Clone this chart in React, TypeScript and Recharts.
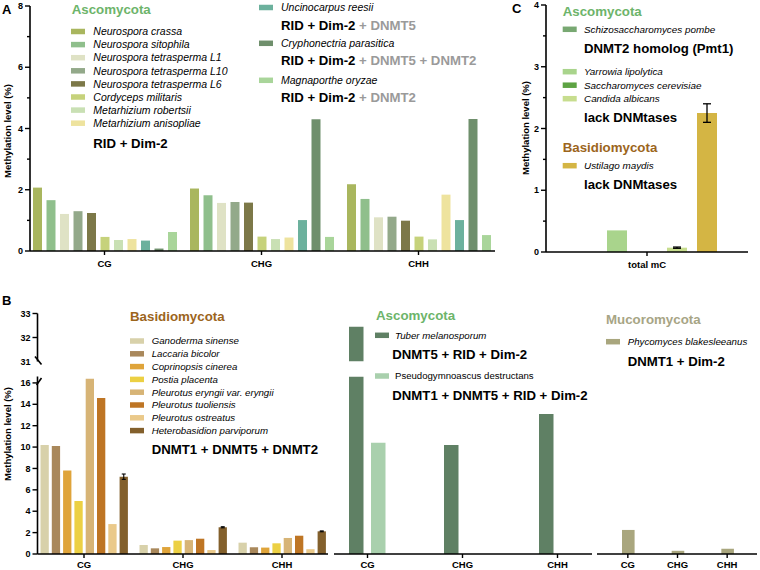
import React from 'react';
import { BarChart, Bar, XAxis, YAxis, ErrorBar } from 'recharts';

const FONT = '"Liberation Sans", Arial, Helvetica, sans-serif';

const contexts = ['CG', 'CHG', 'CHH'];

// Panel A: Ascomycota with RID + Dim-2 (values per species: CG, CHG, CHH)
const ascoSpecies = [
  'Neurospora crassa',
  'Neurospora sitophila',
  'Neurospora tetrasperma L1',
  'Neurospora tetrasperma L10',
  'Neurospora tetrasperma L6',
  'Cordyceps militaris',
  'Metarhizium robertsii',
  'Metarhizium anisopliae',
  'Uncinocarpus reesii',
  'Cryphonectria parasitica',
  'Magnaporthe oryzae',
];
const ascoValues = [
  [2.07, 2.04, 2.18],
  [1.66, 1.82, 1.7],
  [1.21, 1.57, 1.1],
  [1.3, 1.6, 1.12],
  [1.24, 1.58, 0.99],
  [0.46, 0.47, 0.47],
  [0.36, 0.39, 0.38],
  [0.39, 0.44, 1.84],
  [0.34, 1.01, 1.01],
  [0.08, 4.3, 4.31],
  [0.62, 0.46, 0.52],
];
const ascoColors = [
  '#a9b65e', '#8fbf8c', '#dfe2c5', '#93a98a', '#7c7848', '#c6d27b',
  '#c9e0b4', '#eee39e', '#6cb19d', '#6f8f6c', '#a9d59a',
];

// Panel B: Basidiomycota
const basidioSpecies = [
  'Ganoderma sinense',
  'Laccaria bicolor',
  'Coprinopsis cinerea',
  'Postia placenta',
  'Pleurotus eryngii var. eryngii',
  'Pleurotus tuoliensis',
  'Pleurotus ostreatus',
  'Heterobasidion parviporum',
];
const basidioValues = [
  [10.2, 0.84, 1.06],
  [10.1, 0.53, 0.63],
  [7.8, 0.65, 0.6],
  [4.95, 1.25, 1.0],
  [16.4, 1.3, 1.5],
  [14.6, 1.43, 1.71],
  [2.8, 0.37, 0.45],
  [7.23, 2.5, 2.12],
];
const heterobasidionErr = [0.25, 0.05, 0.04];
const basidioColors = [
  '#d8d1aa', '#a9885b', '#dfa43a', '#ecd043', '#d7b476', '#be7524', '#eac98a', '#83602c',
];

// Panel B: Ascomycota with DNMT5
const dnmt5Species = ['Tuber melanosporum', 'Pseudogymnoascus destructans'];
const dnmt5Values = [
  [32.45, 10.2, 13.1],
  [10.4, null, null],
];
const dnmt5Colors = ['#5f8064', '#a9d0ad'];

// Panel B: Mucoromycota
const mucoSpecies = ['Phycomyces blakesleeanus'];
const mucoValues = [[2.25, 0.3, 0.5]];
const mucoColors = ['#a9a67e'];

// Panel C: total mC
const cCategory = ['total mC'];
const cSpecies = [
  'Schizosaccharomyces pombe',
  'Yarrowia lipolytica',
  'Saccharomyces cerevisiae',
  'Candida albicans',
  'Ustilago maydis',
];
const cValues = [0, 0.35, 0, 0.07, 2.25];
const cErrors = [null, null, null, 0.01, 0.15];
const cColors = ['#78a872', '#a9d48c', '#5da343', '#c7dd8e', '#d4b544'];

const ticksA = [0, 1, 2, 3, 4, 5, 6, 7, 8];
const ticksC = [0, 0.5, 1, 1.5, 2, 2.5, 3, 3.5, 4];
const ticksBLow = [0, 2, 4, 6, 8, 10, 12, 14, 16];
const ticksBHigh = [31, 32, 33];

const LOW_MAX = 16.6;
const HIGH_MIN = 31;
const HIGH_MAX = 33;

const GREEN = '#6db46a';
const BROWN = '#9c651c';
const KHAKI = '#a7a585';
const GREY = '#9a9a9a';

function buildRows(values: (number | null)[][], clip?: (v: number | null) => number | null) {
  return contexts.map((ctx, ci) => {
    const row: Record<string, any> = { ctx };
    values.forEach((v, si) => {
      row['s' + si] = clip ? clip(v[ci]) : v[ci];
    });
    return row;
  });
}

const rowsA = buildRows(ascoValues);
const rowsBasidio = buildRows(basidioValues).map((r, i) => ({ ...r, e7: heterobasidionErr[i] }));
const rowsDnmt5Low = buildRows(dnmt5Values, (v) => (v == null ? null : Math.min(v, LOW_MAX)));
const rowsDnmt5High = buildRows(dnmt5Values, (v) => (v != null && v > HIGH_MIN ? v : null));
const rowsMuco = buildRows(mucoValues);
const rowsC = cCategory.map((ctx) => {
  const row: Record<string, any> = { ctx };
  cValues.forEach((v, i) => {
    row['s' + i] = v;
    if (cErrors[i] != null) row['e' + i] = cErrors[i];
  });
  return row;
});

const axisLine = { stroke: '#000', strokeWidth: 1.6 };
const xTick = { fontSize: 9.5, fontWeight: 700, fill: '#000', fontFamily: FONT };

function yTick(isMajor: (v: number) => boolean, noLine: (v: number) => boolean = () => false) {
  return (props: any) => {
    const { x, y, payload } = props;
    const v = payload.value;
    const major = isMajor(v);
    const len = major ? 5 : 3;
    return (
      <g>
        {!noLine(v) && <line x1={x - len} x2={x} y1={y} y2={y} stroke="#000" strokeWidth={1.4} />}
        {major && (
          <text
            x={x - 7}
            y={y}
            dy="0.35em"
            textAnchor="end"
            fontSize={9}
            fontWeight={700}
            fontFamily={FONT}
            fill="#000"
          >
            {v}
          </text>
        )}
      </g>
    );
  };
}

function PanelA() {
  return (
    <BarChart
      width={500}
      height={280}
      data={rowsA}
      margin={{ top: 6, right: 5, left: 0, bottom: 9 }}
      barSize={9}
      barGap={4.5}
    >
      <XAxis
        dataKey="ctx"
        height={20}
        padding={{ left: -4, right: -2 }}
        axisLine={axisLine}
        tickLine={{ stroke: '#000', strokeWidth: 1.4 }}
        tickSize={4}
        tickMargin={5}
        tick={xTick}
        interval={0}
      />
      <YAxis
        width={30}
        domain={[0, 8]}
        ticks={ticksA}
        interval={0}
        axisLine={axisLine}
        tickLine={false}
        tickSize={0}
        tickMargin={0}
        tick={yTick((v) => v % 2 === 0)}
      />
      {ascoSpecies.map((s, i) => (
        <Bar key={s} dataKey={'s' + i} name={s} fill={ascoColors[i]} isAnimationActive={false} />
      ))}
    </BarChart>
  );
}

function PanelC() {
  return (
    <BarChart
      width={255}
      height={280}
      data={rowsC}
      margin={{ top: 5, right: 7, left: 0, bottom: 8 }}
      barSize={20}
      barGap={10}
    >
      <XAxis
        dataKey="ctx"
        height={20}
        axisLine={axisLine}
        tickLine={{ stroke: '#000', strokeWidth: 1.4 }}
        tickSize={4}
        tickMargin={5.5}
        tick={xTick}
        interval={0}
      />
      <YAxis
        width={46}
        domain={[0, 4]}
        ticks={ticksC}
        interval={0}
        axisLine={axisLine}
        tickLine={false}
        tickSize={0}
        tickMargin={0}
        tick={yTick((v) => Number.isInteger(v))}
      />
      {cSpecies.map((s, i) => (
        <Bar key={s} dataKey={'s' + i} name={s} fill={cColors[i]} isAnimationActive={false}>
          {cErrors[i] != null && (
            <ErrorBar dataKey={'e' + i} width={4} strokeWidth={1.3} stroke="#000" direction="y" />
          )}
        </Bar>
      ))}
    </BarChart>
  );
}

function BasidioHigh() {
  return (
    <BarChart width={335} height={70} data={rowsBasidio} margin={{ top: 13.5, right: 7, left: 0, bottom: 8.5 }}>
      <XAxis dataKey="ctx" hide />
      <YAxis
        width={37.5}
        domain={[HIGH_MIN, HIGH_MAX]}
        ticks={ticksBHigh}
        interval={0}
        allowDataOverflow
        axisLine={axisLine}
        tickLine={false}
        tickSize={0}
        tickMargin={0}
        tick={yTick(() => true, (v) => v === HIGH_MIN)}
      />
    </BarChart>
  );
}

function BasidioLow() {
  return (
    <BarChart
      width={335}
      height={200}
      data={rowsBasidio}
      margin={{ top: 6.5, right: 7, left: 0, bottom: 0 }}
      barSize={8.3}
      barGap={3}
    >
      <XAxis
        dataKey="ctx"
        height={16}
        padding={{ left: -3, right: -3.5 }}
        axisLine={axisLine}
        tickLine={{ stroke: '#000', strokeWidth: 1.4 }}
        tickSize={4}
        tickMargin={3.5}
        tick={xTick}
        interval={0}
      />
      <YAxis
        width={37.5}
        domain={[0, LOW_MAX]}
        ticks={ticksBLow}
        interval={0}
        allowDataOverflow
        axisLine={axisLine}
        tickLine={false}
        tickSize={0}
        tickMargin={0}
        tick={yTick(() => true)}
      />
      {basidioSpecies.map((s, i) => (
        <Bar key={s} dataKey={'s' + i} name={s} fill={basidioColors[i]} isAnimationActive={false}>
          {i === 7 && <ErrorBar dataKey="e7" width={2} strokeWidth={1.1} stroke="#000" direction="y" />}
        </Bar>
      ))}
    </BarChart>
  );
}

function Dnmt5High() {
  return (
    <BarChart
      width={265}
      height={70}
      data={rowsDnmt5High}
      margin={{ top: 13.5, right: 3, left: 4, bottom: 8.5 }}
      barSize={14.5}
      barGap={7.5}
    >
      <XAxis dataKey="ctx" hide padding={{ left: -14, right: -13 }} />
      <YAxis hide domain={[HIGH_MIN, HIGH_MAX]} allowDataOverflow />
      {dnmt5Species.map((s, i) => (
        <Bar key={s} dataKey={'s' + i} name={s} fill={dnmt5Colors[i]} isAnimationActive={false} />
      ))}
    </BarChart>
  );
}

function Dnmt5Low() {
  return (
    <BarChart
      width={265}
      height={200}
      data={rowsDnmt5Low}
      margin={{ top: 6.5, right: 3, left: 4, bottom: 0 }}
      barSize={14.5}
      barGap={7.5}
    >
      <XAxis
        dataKey="ctx"
        height={16}
        padding={{ left: -14, right: -13 }}
        axisLine={axisLine}
        tickLine={{ stroke: '#000', strokeWidth: 1.4 }}
        tickSize={4}
        tickMargin={3.5}
        tick={xTick}
        interval={0}
      />
      <YAxis hide domain={[0, LOW_MAX]} allowDataOverflow />
      {dnmt5Species.map((s, i) => (
        <Bar key={s} dataKey={'s' + i} name={s} fill={dnmt5Colors[i]} isAnimationActive={false} />
      ))}
    </BarChart>
  );
}

function MucoLow() {
  return (
    <BarChart
      width={166}
      height={200}
      data={rowsMuco}
      margin={{ top: 6.5, right: 3, left: 3, bottom: 0 }}
      barSize={12.6}
    >
      <XAxis
        dataKey="ctx"
        height={16}
        padding={{ left: 6, right: 5 }}
        axisLine={axisLine}
        tickLine={{ stroke: '#000', strokeWidth: 1.4 }}
        tickSize={4}
        tickMargin={3.5}
        tick={xTick}
        interval={0}
      />
      <YAxis hide domain={[0, LOW_MAX]} allowDataOverflow />
      {mucoSpecies.map((s, i) => (
        <Bar key={s} dataKey={'s' + i} name={s} fill={mucoColors[i]} isAnimationActive={false} />
      ))}
    </BarChart>
  );
}

function T({
  x, y, size, bold = false, italic = false, color = '#000', anchor = 'start', children,
}: any) {
  return (
    <text
      x={x}
      y={y + size * 0.36}
      fontSize={size}
      fontWeight={bold ? 700 : 400}
      fontStyle={italic ? 'italic' : 'normal'}
      fill={color}
      fontFamily={FONT}
      textAnchor={anchor}
    >
      {children}
    </text>
  );
}

function Sw({ x, y, color, w = 14, h = 5.5 }: any) {
  return <rect x={x} y={y - h / 2} width={w} height={h} fill={color} />;
}

function YLabel({ cx, cy }: { cx: number; cy: number }) {
  const bx = cx + 3.4;
  return (
    <text
      x={bx}
      y={cy}
      transform={`rotate(-90 ${bx} ${cy})`}
      textAnchor="middle"
      fontSize={9.5}
      fontWeight={700}
      fontFamily={FONT}
      fill="#000"
    >
      Methylation level (%)
    </text>
  );
}

function Overlay() {
  const formula = 13.2;
  return (
    <svg
      width={760}
      height={570}
      style={{ position: 'absolute', left: 0, top: 0, pointerEvents: 'none' }}
    >
      {/* panel letters */}
      <T x={2} y={9} size={13} bold>A</T>
      <T x={2} y={300} size={13} bold>B</T>
      <T x={512} y={8} size={13} bold>C</T>

      <YLabel cx={7.5} cy={131} />
      <YLabel cx={7.5} cy={434} />
      <YLabel cx={526} cy={128} />

      {/* axis break marks */}
      <line x1={35} y1={356.5} x2={41.5} y2={364.5} stroke="#000" strokeWidth={1.6} />
      <line x1={36.5} y1={385} x2={41.5} y2={378} stroke="#000" strokeWidth={1.6} />

      {/* Panel A legend */}
      <T x={71.7} y={9} size={13.3} bold color={GREEN}>Ascomycota</T>
      {ascoSpecies.slice(0, 8).map((s, i) => (
        <g key={s}>
          <Sw x={71} y={31.5 + i * 13.1} color={ascoColors[i]} />
          <T x={93.3} y={31.5 + i * 13.1} size={10.5} italic>{s}</T>
        </g>
      ))}
      <T x={93.3} y={143.3} size={formula} bold>RID + Dim-2</T>

      <Sw x={259} y={7.5} color={ascoColors[8]} />
      <T x={281} y={7.5} size={10.5} italic>{ascoSpecies[8]}</T>
      <T x={281} y={25} size={formula} bold>
        RID + Dim-2<tspan fill={GREY}>{' + DNMT5'}</tspan>
      </T>
      <Sw x={259} y={43.3} color={ascoColors[9]} />
      <T x={281} y={43.3} size={10.5} italic>{ascoSpecies[9]}</T>
      <T x={281} y={60} size={formula} bold>
        RID + Dim-2<tspan fill={GREY}>{' + DNMT5 + DNMT2'}</tspan>
      </T>
      <Sw x={259} y={80.3} color={ascoColors[10]} />
      <T x={281} y={80.3} size={10.5} italic>{ascoSpecies[10]}</T>
      <T x={281} y={97} size={formula} bold>
        RID + Dim-2<tspan fill={GREY}>{' + DNMT2'}</tspan>
      </T>

      {/* Panel C legend */}
      <T x={562.7} y={11} size={13.3} bold color={GREEN}>Ascomycota</T>
      <Sw x={562.7} y={29.3} color={cColors[0]} />
      <T x={584} y={29.3} size={9.9} italic>{cSpecies[0]}</T>
      <T x={584} y={48.3} size={formula} bold>DNMT2 homolog (Pmt1)</T>
      {[1, 2, 3].map((i, k) => (
        <g key={cSpecies[i]}>
          <Sw x={562.7} y={71.7 + k * 13.5} color={cColors[i]} />
          <T x={584} y={71.7 + k * 13.5} size={9.9} italic>{cSpecies[i]}</T>
        </g>
      ))}
      <T x={584} y={117.7} size={formula} bold>lack DNMtases</T>
      <T x={562.7} y={147} size={13.3} bold color={BROWN}>Basidiomycota</T>
      <Sw x={562.7} y={165.7} color={cColors[4]} />
      <T x={584} y={165.7} size={9.9} italic>{cSpecies[4]}</T>
      <T x={584} y={184.3} size={formula} bold>lack DNMtases</T>

      {/* Panel B left legend */}
      <T x={130} y={316.7} size={13.3} bold color={BROWN}>Basidiomycota</T>
      {basidioSpecies.map((s, i) => (
        <g key={s}>
          <Sw x={130} y={341 + i * 12.8} color={basidioColors[i]} />
          <T x={151.7} y={341 + i * 12.8} size={9.7} italic>{s}</T>
        </g>
      ))}
      <T x={151.7} y={449.3} size={formula} bold>DNMT1 + DNMT5 + DNMT2</T>

      {/* Panel B middle legend */}
      <T x={376} y={315} size={13.3} bold color={GREEN}>Ascomycota</T>
      <Sw x={375} y={335.3} color={dnmt5Colors[0]} />
      <T x={395} y={335.3} size={9.7} italic>{dnmt5Species[0]}</T>
      <T x={392.3} y={354.3} size={formula} bold>DNMT5 + RID + Dim-2</T>
      <Sw x={375} y={376} color={dnmt5Colors[1]} />
      <T x={395} y={376} size={9.6}>{dnmt5Species[1]}</T>
      <T x={392.3} y={395} size={formula} bold>DNMT1 + DNMT5 + RID + Dim-2</T>

      {/* Panel B right legend */}
      <T x={606} y={319.3} size={13.3} bold color={KHAKI}>Mucoromycota</T>
      <Sw x={606} y={341.7} color={mucoColors[0]} />
      <T x={627.7} y={341.7} size={9.7} italic>{mucoSpecies[0]}</T>
      <T x={627.7} y={361} size={formula} bold>DNMT1 + Dim-2</T>
    </svg>
  );
}

export default function App() {
  const abs = (left: number, top: number): React.CSSProperties => ({ position: 'absolute', left, top });
  return (
    <div
      style={{
        position: 'absolute',
        left: 0,
        top: 0,
        width: 760,
        height: 570,
        background: '#fff',
        fontFamily: FONT,
        overflow: 'hidden',
      }}
    >
      <div style={abs(0, 0)}><PanelA /></div>
      <div style={abs(500, 0)}><PanelC /></div>
      <div style={abs(0, 300)}><BasidioHigh /></div>
      <div style={abs(0, 370)}><BasidioLow /></div>
      <div style={abs(330, 300)}><Dnmt5High /></div>
      <div style={abs(330, 370)}><Dnmt5Low /></div>
      <div style={abs(594, 370)}><MucoLow /></div>
      <Overlay />
    </div>
  );
}
